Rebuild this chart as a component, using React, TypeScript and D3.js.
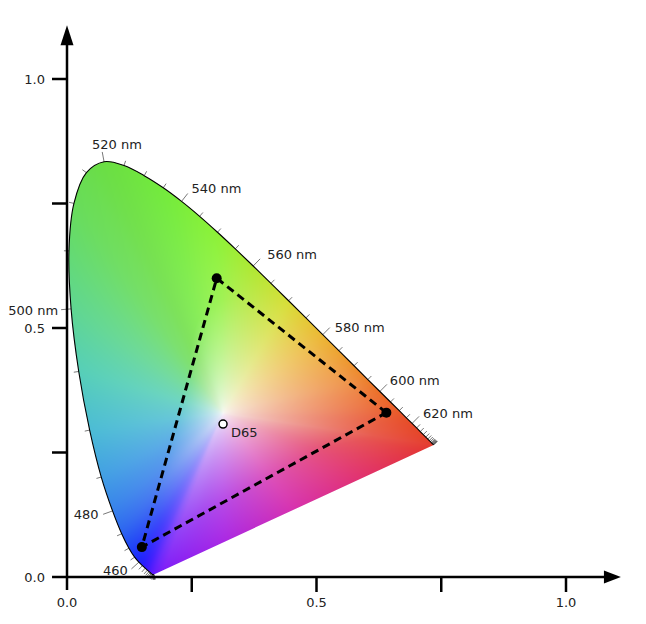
import { useEffect, useState } from 'react';
import * as d3 from 'd3';

// CIE 1931 2° spectral locus, 5 nm steps
const wavelengths = [
  380, 385, 390, 395, 400, 405, 410, 415, 420, 425, 430, 435, 440, 445, 450, 455, 460, 465, 470, 475,
  480, 485, 490, 495, 500, 505, 510, 515, 520, 525, 530, 535, 540, 545, 550, 555, 560, 565, 570, 575,
  580, 585, 590, 595, 600, 605, 610, 615, 620, 625, 630, 635, 640, 645, 650, 655, 660, 665, 670, 675,
  680, 685, 690, 695, 700,
];
const locusX = [
  0.1741, 0.174, 0.1738, 0.1736, 0.1733, 0.173, 0.1726, 0.1721, 0.1714, 0.1703, 0.1689, 0.1669, 0.1644,
  0.1611, 0.1566, 0.151, 0.144, 0.1355, 0.1241, 0.1096, 0.0913, 0.0687, 0.0454, 0.0235, 0.0082, 0.0039,
  0.0139, 0.0389, 0.0743, 0.1142, 0.1547, 0.1929, 0.2296, 0.2658, 0.3016, 0.3373, 0.3731, 0.4087, 0.4441,
  0.4788, 0.5125, 0.5448, 0.5752, 0.6029, 0.627, 0.6482, 0.6658, 0.6801, 0.6915, 0.7006, 0.7079, 0.714,
  0.719, 0.723, 0.726, 0.7283, 0.73, 0.7311, 0.732, 0.7327, 0.7334, 0.734, 0.7344, 0.7346, 0.7347,
];
const locusY = [
  0.005, 0.005, 0.0049, 0.0049, 0.0048, 0.0048, 0.0048, 0.0048, 0.0051, 0.0058, 0.0069, 0.0086, 0.0109,
  0.0138, 0.0177, 0.0227, 0.0297, 0.0399, 0.0578, 0.0868, 0.1327, 0.2007, 0.295, 0.4127, 0.5384, 0.6548,
  0.7502, 0.812, 0.8338, 0.8262, 0.8059, 0.7816, 0.7543, 0.7243, 0.6923, 0.6589, 0.6245, 0.5896, 0.5547,
  0.5202, 0.4866, 0.4544, 0.4242, 0.3965, 0.3725, 0.3514, 0.334, 0.3197, 0.3083, 0.2993, 0.292, 0.2859,
  0.2809, 0.277, 0.274, 0.2717, 0.27, 0.2689, 0.268, 0.2673, 0.2666, 0.266, 0.2656, 0.2654, 0.2653,
];

const labelWavelengths = [460, 480, 500, 520, 540, 560, 580, 600, 620];
const labelTexts = ['460', '480', '500 nm', '520 nm', '540 nm', '560 nm', '580 nm', '600 nm', '620 nm'];

// sRGB primaries (R, G, B) and the white point marker
const primaryX = [0.64, 0.3, 0.15];
const primaryY = [0.33, 0.6, 0.06];
const whiteLabel = 'D65';
const whiteX = 0.3127;
const whiteY = 0.307;
const fillWhite = [0.3127, 0.329];

// edge colours of the fill
const edgeColorWl = [380, 440, 460, 470, 480, 487, 492, 497, 502, 510, 520, 535, 550, 560, 570, 578, 590, 600, 620, 700];
const edgeColors = [
  '#781efa', '#4614ff', '#191efc', '#1e46f5', '#3782eb', '#46aae1', '#50c8cd', '#5ad4aa', '#62d882',
  '#68dc5a', '#6ade42', '#73eb3c', '#8cf237', '#afe832', '#d7de37', '#ebbe34', '#ee912d', '#ec6e28',
  '#e64828', '#e4382c',
];
// colours along the line of purples, from the 700 nm end to the 380 nm end
const purpleStops = [0, 0.25, 0.5, 0.75, 1];
const purpleColors = ['#e4382c', '#e1326e', '#d732af', '#aa28e4', '#781efa'];
const centreColor = '#f8f8f8';

const axisTicks = [0, 0.25, 0.5, 0.75, 1];
const axisTickLabels = ['0.0', '', '0.5', '', '1.0'];

// label placement relative to the locus point (px)
const labelLayout: Record<number, { dx: number; dy: number; anchor: string }> = {
  460: { dx: -11, dy: 13, anchor: 'end' },
  480: { dx: -14, dy: 8, anchor: 'end' },
  500: { dx: -13, dy: 6, anchor: 'end' },
  520: { dx: -12, dy: -13, anchor: 'start' },
  540: { dx: 10, dy: -8, anchor: 'start' },
  560: { dx: 14, dy: -7, anchor: 'start' },
  580: { dx: 12, dy: -3, anchor: 'start' },
  600: { dx: 10, dy: -6, anchor: 'start' },
  620: { dx: 11, dy: -5, anchor: 'start' },
};

const W = 646;
const H = 624;
const x = d3.scaleLinear().domain([0, 1]).range([67, 566]);
const y = d3.scaleLinear().domain([0, 1]).range([577, 79]);
const FONT = '"DejaVu Sans", Verdana, sans-serif';

type Pt = { x: number; y: number; c: number[] };

const toRgb = (c: string) => {
  const r = d3.rgb(c);
  return [r.r, r.g, r.b];
};
const lerp3 = (a: number[], b: number[], t: number) => [
  a[0] + (b[0] - a[0]) * t,
  a[1] + (b[1] - a[1]) * t,
  a[2] + (b[2] - a[2]) * t,
];

const edgeScale = d3.scaleLinear<string>().domain(edgeColorWl).range(edgeColors).interpolate(d3.interpolateRgb);
const purpleScale = d3.scaleLinear<string>().domain(purpleStops).range(purpleColors).interpolate(d3.interpolateRgb);

// boundary polygon (chromaticity) with colours
function buildBoundary(): Pt[] {
  const pts: Pt[] = wavelengths.map((wl, i) => ({ x: locusX[i], y: locusY[i], c: toRgb(edgeScale(wl)) }));
  const n = pts.length - 1;
  const steps = 12;
  for (let s = 1; s < steps; s++) {
    const f = s / steps;
    pts.push({
      x: locusX[n] + (locusX[0] - locusX[n]) * f,
      y: locusY[n] + (locusY[0] - locusY[n]) * f,
      c: toRgb(purpleScale(f)),
    });
  }
  return pts;
}

// distance from the white point to a polygon along a ray, plus the colour there
function rayHit(poly: Pt[], wx: number, wy: number, dx: number, dy: number) {
  let best = -1;
  let bc = [255, 255, 255];
  for (let i = 0; i < poly.length; i++) {
    const p = poly[i];
    const q = poly[(i + 1) % poly.length];
    const ex = q.x - p.x;
    const ey = q.y - p.y;
    const den = dx * ey - dy * ex;
    if (Math.abs(den) < 1e-14) continue;
    const vx = p.x - wx;
    const vy = p.y - wy;
    const s = (vx * ey - vy * ex) / den;
    const u = (vx * dy - vy * dx) / den;
    if (s > 0 && u >= -1e-9 && u <= 1 + 1e-9 && s > best) {
      best = s;
      bc = lerp3(p.c, q.c, Math.min(1, Math.max(0, u)));
    }
  }
  return { d: best > 0 ? best : 1e-6, c: bc };
}

function smoothCircular(arr: number[][], win: number) {
  const N = arr.length;
  const dim = arr[0].length;
  const out: number[][] = [];
  for (let k = 0; k < N; k++) {
    const acc = new Array(dim).fill(0);
    for (let m = -win; m <= win; m++) {
      const c = arr[(k + m + N) % N];
      for (let q = 0; q < dim; q++) acc[q] += c[q];
    }
    out.push(acc.map((v) => v / (2 * win + 1)));
  }
  return out;
}

function buildFill(box: { x0: number; y0: number; x1: number; y1: number }, scale: number) {
  const poly = buildBoundary();
  const tri: Pt[] = primaryX.map((px, i) => ({ x: px, y: primaryY[i], c: [0, 0, 0] }));
  const [wx, wy] = fillWhite;
  const N = 2048;
  const dLoc = new Float64Array(N);
  const rawTri: number[][] = [];
  const raw: number[][] = [];
  for (let k = 0; k < N; k++) {
    const th = (2 * Math.PI * k) / N - Math.PI;
    const dx = Math.cos(th);
    const dy = Math.sin(th);
    const h = rayHit(poly, wx, wy, dx, dy);
    dLoc[k] = h.d;
    raw.push(h.c);
    // triangle reach as a fraction of the locus reach
    rawTri.push([Math.min(rayHit(tri, wx, wy, dx, dy).d, h.d) / h.d]);
  }
  const cols = smoothCircular(raw, 14);
  const triFrac = smoothCircular(rawTri, 90).map((v) => v[0]);

  const white = toRgb(centreColor);
  const cw = Math.round((box.x1 - box.x0) * scale);
  const ch = Math.round((box.y1 - box.y0) * scale);
  const canvas = document.createElement('canvas');
  canvas.width = cw;
  canvas.height = ch;
  const ctx = canvas.getContext('2d');
  if (!ctx) return '';
  const img = ctx.createImageData(cw, ch);
  const inner = 0.84;
  for (let j = 0; j < ch; j++) {
    const cy = y.invert(box.y0 + (j + 0.5) / scale);
    for (let i = 0; i < cw; i++) {
      const cx = x.invert(box.x0 + (i + 0.5) / scale);
      const dx = cx - wx;
      const dy = cy - wy;
      const th = Math.atan2(dy, dx);
      const fk = ((th + Math.PI) / (2 * Math.PI)) * N;
      const k0 = Math.floor(fk) % N;
      const k1 = (k0 + 1) % N;
      const fr = fk - Math.floor(fk);
      const dl = dLoc[k0] + (dLoc[k1] - dLoc[k0]) * fr;
      const tf = triFrac[k0] + (triFrac[k1] - triFrac[k0]) * fr;
      const bcol = lerp3(cols[k0], cols[k1], fr);
      const t = Math.min(1, Math.hypot(dx, dy) / dl);
      let f: number;
      if (t <= tf) {
        f = inner * Math.pow(t / tf, 0.7);
      } else {
        f = inner + (1 - inner) * ((t - tf) / Math.max(1e-6, 1 - tf));
      }
      const c = lerp3(white, bcol, f);
      const o = (j * cw + i) * 4;
      img.data[o] = c[0];
      img.data[o + 1] = c[1];
      img.data[o + 2] = c[2];
      img.data[o + 3] = 255;
    }
  }
  ctx.putImageData(img, 0, 0);
  return canvas.toDataURL();
}

export default function App() {
  const [fillUrl, setFillUrl] = useState<string>('');
  const pts = wavelengths.map((_, i) => [x(locusX[i]), y(locusY[i])] as [number, number]);
  const box = { x0: 60, y0: 150, x1: 445, y1: 580 };

  useEffect(() => {
    setFillUrl(buildFill(box, 2));
  }, []);

  const line = d3.line<[number, number]>().curve(d3.curveCatmullRom.alpha(0.5));
  const locusPath = line(pts) || '';
  const closedPath = locusPath + 'Z';

  // ticks along the locus, perpendicular and outward
  const ticks = wavelengths.map((wl, i) => {
    const a = pts[Math.max(0, i - 1)];
    const b = pts[Math.min(pts.length - 1, i + 1)];
    let tx = b[0] - a[0];
    let ty = b[1] - a[1];
    const len = Math.hypot(tx, ty) || 1;
    tx /= len;
    ty /= len;
    const major = labelWavelengths.includes(wl);
    const l = major ? 10 : 5;
    const [px, py] = pts[i];
    return { wl, x1: px, y1: py, x2: px + ty * l, y2: py - tx * l };
  });

  const triPath = d3.line()(primaryX.map((px, i) => [x(px), y(primaryY[i])] as [number, number])) + 'Z';

  const xAxisStart = x(-0.03);
  const xAxisEnd = x(1.08);
  const xArrowTip = x(1.11);
  const yAxisStart = y(-0.026);
  const yAxisEnd = y(1.072);
  const yArrowTip = y(1.108);

  return (
    <svg width={W} height={H} style={{ position: 'absolute', left: 0, top: 0 }} fontFamily={FONT}>
      <defs>
        <clipPath id="locusClip">
          <path d={closedPath} />
        </clipPath>
      </defs>

      {fillUrl && (
        <image
          href={fillUrl}
          x={box.x0}
          y={box.y0}
          width={box.x1 - box.x0}
          height={box.y1 - box.y0}
          clipPath="url(#locusClip)"
          preserveAspectRatio="none"
        />
      )}

      {/* wavelength ticks */}
      <g stroke="#555" strokeWidth={0.8}>
        {ticks.map((t) => (
          <line key={t.wl} x1={t.x1} y1={t.y1} x2={t.x2} y2={t.y2} />
        ))}
      </g>

      <path d={locusPath} fill="none" stroke="#000" strokeWidth={1.1} />

      {/* wavelength labels */}
      <g fontSize={13} fill="#222">
        {labelWavelengths.map((wl, i) => {
          const idx = wavelengths.indexOf(wl);
          const lay = labelLayout[wl];
          return (
            <text key={wl} x={pts[idx][0] + lay.dx} y={pts[idx][1] + lay.dy} textAnchor={lay.anchor}>
              {labelTexts[i]}
            </text>
          );
        })}
      </g>

      {/* axes */}
      <g stroke="#000" strokeWidth={2.5}>
        <line x1={xAxisStart} y1={y(0)} x2={xAxisEnd} y2={y(0)} />
        <line x1={x(0)} y1={yAxisStart} x2={x(0)} y2={yAxisEnd} />
        {axisTicks.slice(1).map((t) => (
          <line key={'xt' + t} x1={x(t)} y1={y(0)} x2={x(t)} y2={y(0) + 15} />
        ))}
        {axisTicks.slice(1).map((t) => (
          <line key={'yt' + t} x1={x(0) - 15} y1={y(t)} x2={x(0)} y2={y(t)} />
        ))}
      </g>
      <path
        d={`M${xAxisEnd - 2},${y(0) - 6.5}L${xArrowTip},${y(0)}L${xAxisEnd - 2},${y(0) + 6.5}Z`}
        fill="#000"
      />
      <path
        d={`M${x(0) - 6.5},${yAxisEnd + 2}L${x(0)},${yArrowTip}L${x(0) + 6.5},${yAxisEnd + 2}Z`}
        fill="#000"
      />
      <g fontSize={13} fill="#222">
        {axisTicks.map((t, i) =>
          axisTickLabels[i] ? (
            <text key={'xl' + t} x={x(t)} y={y(0) + 30} textAnchor="middle">
              {axisTickLabels[i]}
            </text>
          ) : null
        )}
        {axisTicks.map((t, i) =>
          axisTickLabels[i] ? (
            <text key={'yl' + t} x={x(0) - 22} y={y(t) + 5} textAnchor="end">
              {axisTickLabels[i]}
            </text>
          ) : null
        )}
      </g>

      {/* sRGB gamut */}
      <path d={triPath} fill="none" stroke="#000" strokeWidth={3} strokeDasharray="8,5" />
      {primaryX.map((px, i) => (
        <circle key={i} cx={x(px)} cy={y(primaryY[i])} r={5} fill="#000" />
      ))}

      <circle cx={x(whiteX)} cy={y(whiteY)} r={4} fill="#fff" stroke="#000" strokeWidth={1.5} />
      <text x={x(whiteX) + 8} y={y(whiteY) + 13} fontSize={13} fill="#222">
        {whiteLabel}
      </text>
    </svg>
  );
}
